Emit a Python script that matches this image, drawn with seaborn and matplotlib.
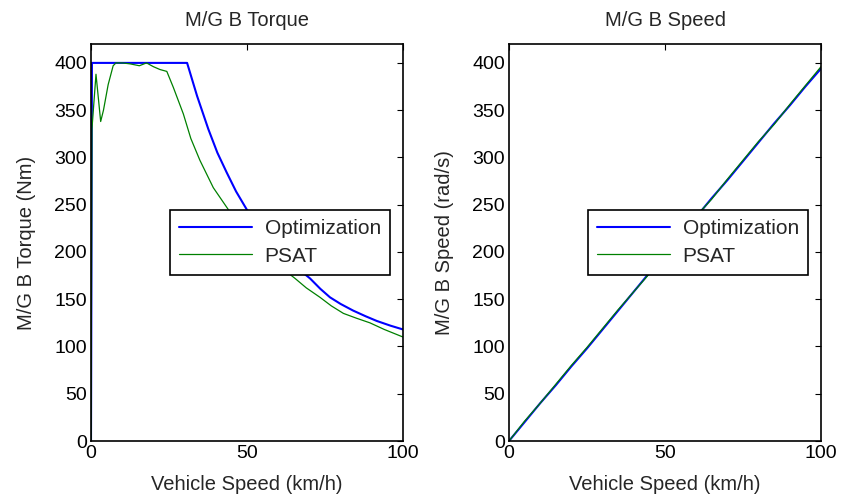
import numpy as np
import pandas as pd
import matplotlib
matplotlib.use("Agg")
import matplotlib.pyplot as plt
import seaborn as sns

# left panel: M/G B torque vs vehicle speed
opt_torque_x = [0, 0.3, 30.8, 34, 37.6, 40.5, 43.5, 46.5, 49.9, 55, 60, 65, 70.2, 73.5, 76.6, 80, 84, 88, 91.6, 96, 100]
opt_torque_y = [0, 400, 400, 365, 330, 305, 284, 264, 245, 222, 203, 186, 172, 161, 152, 145, 138, 132, 127, 122, 118]

psat_torque_x = [0, 0.3, 1.6, 3.1, 4.0, 5.5, 7.1, 8.0, 10, 12.5, 15.5, 17.8, 20, 22.1, 24.3, 26.4, 29.6, 32, 34.9,
                 39.2, 44.6, 50, 55, 60, 65.4, 69, 73.4, 77, 80.9, 85, 89.4, 94, 100]
psat_torque_y = [0, 330, 388, 338, 350, 377, 397, 400, 400, 399, 397, 400, 396, 393, 391, 374, 346, 320, 297,
                 268, 242, 220, 202, 186, 172, 162, 152, 143, 135, 130, 125, 118, 110]

# right panel: M/G B speed vs vehicle speed
speed_x = [0, 5, 10, 15, 20, 25, 30, 35, 40, 45, 50, 55, 60, 65, 70, 75, 80, 85, 90, 95, 100]
opt_speed_y = [0, 20, 40, 59, 79, 98, 118, 138, 158, 178, 197, 217, 237, 257, 276, 296, 316, 336, 355, 375, 394]
psat_speed_y = [0, 21, 40, 60, 80, 99, 119, 139, 158, 177, 198, 218, 238, 256, 277, 297, 317, 335, 356, 376, 396]

series = ["Optimization", "PSAT"]
colors = {"Optimization": "#0000ff", "PSAT": "#008000"}
widths = {"Optimization": 1.5, "PSAT": 0.9}

torque = pd.concat([
    pd.DataFrame({"x": opt_torque_x, "y": opt_torque_y, "src": "Optimization"}),
    pd.DataFrame({"x": psat_torque_x, "y": psat_torque_y, "src": "PSAT"}),
], ignore_index=True)
speed = pd.concat([
    pd.DataFrame({"x": speed_x, "y": opt_speed_y, "src": "Optimization"}),
    pd.DataFrame({"x": speed_x, "y": psat_speed_y, "src": "PSAT"}),
], ignore_index=True)

sns.set_style("white")
plt.rcParams["font.family"] = ["Liberation Sans", "DejaVu Sans"]

fig = plt.figure(figsize=(8.41, 4.94), dpi=100)
ax1 = fig.add_axes([91/841, 1-441/494, 312/841, 397/494])
ax2 = fig.add_axes([509/841, 1-441/494, 312/841, 397/494])

panels = [
    (ax1, torque, "M/G B Torque", "M/G B Torque (Nm)"),
    (ax2, speed, "M/G B Speed", "M/G B Speed (rad/s)"),
]

fs = 14.5
for ax, df, title, ylab in panels:
    for s in series:
        sub = df[df["src"] == s]
        sns.lineplot(data=sub, x="x", y="y", ax=ax, color=colors[s], lw=widths[s],
                     sort=False, estimator=None, label=s)
    ax.set_xlim(0, 100)
    ax.set_ylim(0, 420)
    ax.set_xticks([0, 50, 100])
    ax.set_yticks(np.arange(0, 401, 50))
    ax.tick_params(direction="in", length=4, width=0.8, top=True, right=True,
                   labelsize=14, colors="black", pad=3)
    for sp in ax.spines.values():
        sp.set_visible(True)
        sp.set_color("black")
        sp.set_linewidth(1.2)
    ax.set_title(title, fontsize=fs, pad=13)
    ax.set_xlabel("Vehicle Speed (km/h)", fontsize=fs, labelpad=9)
    ax.set_ylabel(ylab, fontsize=fs, labelpad=13)
    leg = ax.legend(loc="upper left", bbox_to_anchor=(0.253, 0.582),
                    fontsize=15, handlelength=3.5, handletextpad=0.6, labelspacing=0.4,
                    borderpad=0.45, borderaxespad=0,
                    fancybox=False, framealpha=1, edgecolor="black")
    leg.get_frame().set_linewidth(1.2)

fig.savefig("out.png", dpi=100)
